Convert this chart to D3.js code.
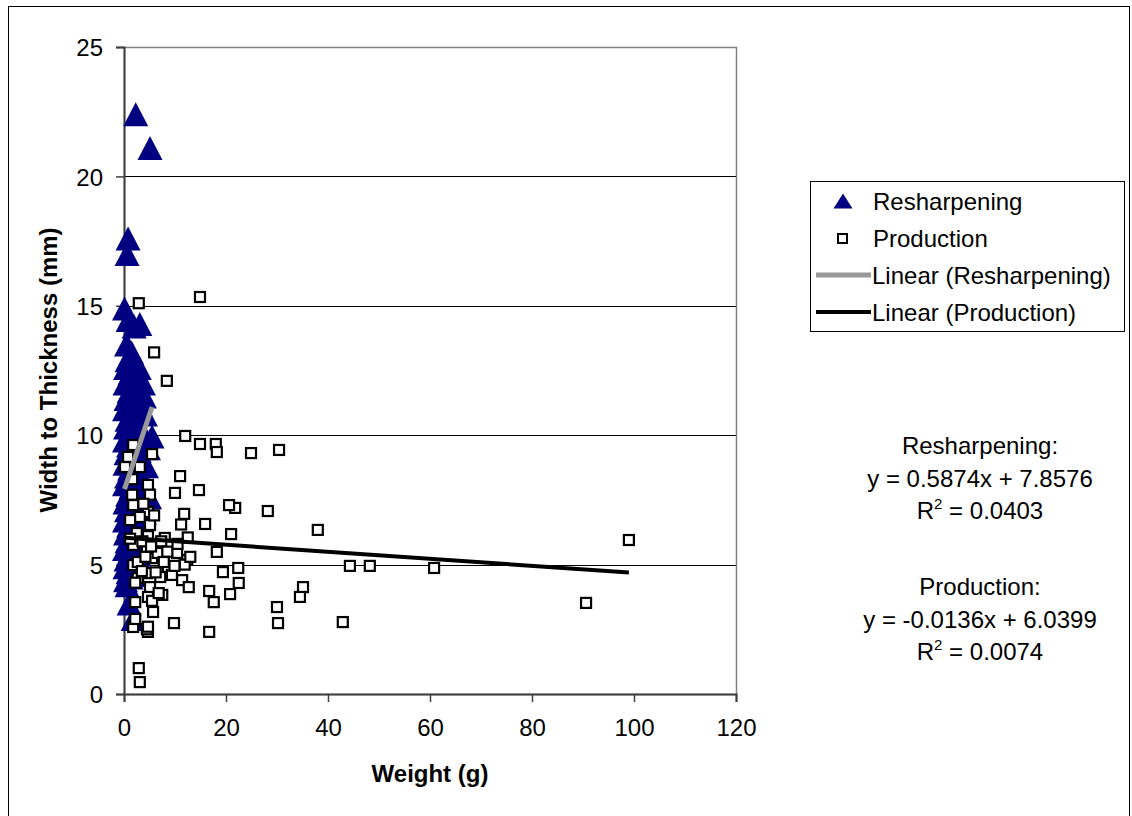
<!DOCTYPE html>
<html>
<head>
<meta charset="utf-8">
<script src="https://cdn.jsdelivr.net/npm/d3@7/dist/d3.min.js"></script>
<style>
  html, body { margin: 0; padding: 0; background: #fff; }
  svg { display: block; font-family: "Liberation Sans", Arial, sans-serif; }
</style>
</head>
<body>
<svg id="chart" width="1132" height="816"></svg>
<script>
// Resharpening flakes: [weight (g), width-to-thickness]
const resharpening = [
  [2.3,22.4],[5.1,21.1],[0.8,17.6],[0.6,17.0],[0.1,14.9],[0.8,14.45],[2.0,14.2],[3.1,14.3],
  [0.5,13.5],[1.5,13.2],[0.6,12.9],[0.3,12.6],[0.9,12.6],[3.0,12.6],[1.2,12.4],[3.8,12.0],
  [2.6,12.1],[0.2,12.0],[1.0,11.7],[0.4,11.4],[2.0,11.5],[4.0,11.5],[3.2,11.2],[0.1,11.0],
  [1.5,10.9],[0.6,10.6],[2.6,10.5],[4.2,10.8],[0.3,10.3],[1.2,10.1],[1.8,10.2],[5.5,9.95],
  [3.5,10.0],[0.1,9.8],[0.9,9.6],[2.2,9.7],[4.8,9.5],[0.4,9.3],[1.7,9.2],[3.0,9.4],
  [3.6,9.0],[4.4,8.8],[0.2,8.9],[1.1,8.7],[2.4,8.6],[0.5,8.4],[3.8,8.3],[0.1,8.1],
  [1.4,8.0],[2.6,8.0],[0.7,7.7],[2.8,7.6],[5.0,7.6],[0.2,7.4],[1.9,7.3],[0.5,7.1],
  [4.0,7.0],[1.3,6.9],[3.0,6.8],[0.1,6.7],[0.9,6.5],[2.3,6.4],[0.3,6.2],[1.6,6.1],
  [0.6,5.9],[0.1,5.6],[1.1,5.5],[2.9,5.4],[0.4,5.2],[1.8,5.1],[3.5,5.0],[0.2,4.9],
  [0.8,4.7],[2.2,4.6],[1.4,4.5],[0.3,4.4],[0.6,4.2],[1.0,3.5],[1.8,2.9]
];

// Production flakes: [weight (g), width-to-thickness]
const production = [
  [99.0,5.95],[90.6,3.52],[60.8,4.87],[48.2,4.95],[44.3,4.95],[42.9,2.78],[38.0,6.34],[35.1,4.13],
  [34.5,3.75],[30.4,9.43],[30.0,3.36],[30.2,2.74],[28.2,7.07],[24.9,9.31],[22.4,4.87],[22.5,4.29],
  [21.8,7.19],[20.6,7.30],[21.0,6.18],[20.8,3.86],[19.4,4.71],[18.0,9.66],[18.2,9.35],[18.2,5.49],
  [17.6,3.55],[16.7,3.98],[16.7,2.40],[15.9,6.57],[14.9,15.34],[14.9,9.66],[14.7,7.88],[12.0,9.97],
  [11.0,8.42],[11.8,6.96],[11.2,6.55],[12.5,6.05],[12.4,5.18],[11.9,5.0],[11.4,4.4],[12.7,4.13],
  [9.8,2.74],[10.0,7.77],[8.4,12.1],[5.9,13.2],[2.9,15.1],[5.5,9.27],[8.0,6.03],[9.0,5.76],
  [10.4,5.45],[8.6,4.91],[9.4,4.6],[7.1,4.52],[7.5,3.83],[5.7,3.17],[4.7,2.4],[4.5,2.5],
  [1.8,2.59],[2.9,1.0],[3.1,0.46],[4.7,8.08],[1.6,7.7],[5.1,7.7],[4.7,7.03],[3.1,6.84],
  [1.2,6.72],[5.1,6.53],[2.5,6.22],[1.8,5.76],[4.5,5.68],[5.5,5.25],[1.8,4.98],[4.5,4.67],
  [2.7,4.48],[5.1,4.13],[4.7,3.75],[2.2,3.55],[1.8,9.62],[0.8,9.16],[0.2,8.77],[3.1,8.77],
  [6.6,5.45],[2.7,5.1],[4.7,6.1],[1.8,7.3],[6.2,4.7],[3.5,4.75],[5.5,3.6],[2.2,2.9],
  [4.7,2.6],[1.2,6.0],[3.6,5.9],[6.8,3.9],[7.8,5.1],[9.9,4.95],[13.0,5.3],[1.6,8.3],
  [3.8,7.35],[5.9,6.9],[2.2,4.3],[4.2,5.3],[5.3,5.7],[7.3,5.9],[8.5,5.5],[10.5,5.8]
];

// Linear trend coefficients: [slope, intercept, R²]
const trendResharpening = [0.5874, 7.8576, 0.0403];
const trendProduction = [-0.0136, 6.0399, 0.0074];

const xTicks = [0, 20, 40, 60, 80, 100, 120];
const yTicks = [0, 5, 10, 15, 20, 25];
const legendLabels = ["Resharpening", "Production", "Linear (Resharpening)", "Linear (Production)"];

const FONT = 24;
const svg = d3.select("#chart");
const plot = { left: 124, right: 736, top: 47, bottom: 694 };

const x = d3.scaleLinear().domain([0, 120]).range([plot.left, plot.right]);
const y = d3.scaleLinear().domain([0, 25]).range([plot.bottom, plot.top]);

// Outer chart frame
svg.append("rect")
  .attr("x", 8.5).attr("y", 6.5).attr("width", 1121).attr("height", 820)
  .attr("fill", "#fff").attr("stroke", "#000").attr("stroke-width", 1);

// Plot area border (grey)
svg.append("rect")
  .attr("x", plot.left + 0.5).attr("y", plot.top + 0.5)
  .attr("width", plot.right - plot.left).attr("height", plot.bottom - plot.top)
  .attr("fill", "#fff").attr("stroke", "#808080").attr("stroke-width", 1.5);

// Horizontal gridlines
svg.append("g").selectAll("line")
  .data(yTicks.filter(t => t > 0 && t < 25))
  .join("line")
  .attr("x1", plot.left).attr("x2", plot.right)
  .attr("y1", d => Math.round(y(d)) + 0.5).attr("y2", d => Math.round(y(d)) + 0.5)
  .attr("stroke", "#000").attr("stroke-width", 1);

// Axes
const yAxis = svg.append("g")
  .attr("transform", `translate(${plot.left},0)`)
  .call(d3.axisLeft(y).tickValues(yTicks).tickSize(8).tickPadding(13).tickFormat(d3.format("d")));
const xAxis = svg.append("g")
  .attr("transform", `translate(0,${plot.bottom})`)
  .call(d3.axisBottom(x).tickValues(xTicks).tickSize(8).tickPadding(17).tickFormat(d3.format("d")));

[yAxis, xAxis].forEach(a => {
  a.select(".domain").attr("stroke", "#404040").attr("stroke-width", 2);
  a.selectAll(".tick line").attr("stroke", "#404040").attr("stroke-width", 1.5);
  a.selectAll(".tick text")
    .attr("font-size", FONT).attr("fill", "#000")
    .attr("font-family", "'Liberation Sans', Arial, sans-serif");
});
yAxis.selectAll(".tick text").attr("dy", "0.36em");

// Axis titles
svg.append("text")
  .attr("transform", `translate(57,${370}) rotate(-90)`)
  .attr("text-anchor", "middle")
  .attr("font-size", FONT).attr("font-weight", "bold")
  .text("Width to Thickness (mm)");
svg.append("text")
  .attr("x", (plot.left + plot.right) / 2).attr("y", 782)
  .attr("text-anchor", "middle")
  .attr("font-size", FONT).attr("font-weight", "bold")
  .text("Weight (g)");

// Marker shapes: triangle drawn around its bounding-box centre
const triangle = (w, h) => `M0,${-h / 2}L${w / 2},${h / 2}L${-w / 2},${h / 2}Z`;
const sq = 10;

const gPoints = svg.append("g");

// Resharpening triangles
gPoints.selectAll("path.resh")
  .data(resharpening)
  .join("path")
  .attr("class", "resh")
  .attr("d", triangle(25, 24))
  .attr("transform", d => `translate(${x(d[0])},${y(d[1])})`)
  .attr("fill", "#000080");

// Production squares
gPoints.selectAll("rect.prod")
  .data(production)
  .join("rect")
  .attr("class", "prod")
  .attr("x", d => x(d[0]) - sq / 2)
  .attr("y", d => y(d[1]) - sq / 2)
  .attr("width", sq).attr("height", sq)
  .attr("fill", "#fff").attr("stroke", "#000").attr("stroke-width", 2.2);

// Trend lines over each series' weight range
function trendSegment(data, coef) {
  const [lo, hi] = d3.extent(data, d => d[0]);
  return [[lo, coef[0] * lo + coef[1]], [hi, coef[0] * hi + coef[1]]];
}
const line = d3.line().x(d => x(d[0])).y(d => y(d[1]));

svg.append("path")
  .attr("d", line(trendSegment(resharpening, trendResharpening)))
  .attr("stroke", "#999").attr("stroke-width", 5).attr("fill", "none");
svg.append("path")
  .attr("d", line(trendSegment(production, trendProduction)))
  .attr("stroke", "#000").attr("stroke-width", 4).attr("fill", "none");

// Legend
const lg = svg.append("g");
lg.append("rect")
  .attr("x", 810.5).attr("y", 181.5).attr("width", 314).attr("height", 150)
  .attr("fill", "#fff").attr("stroke", "#000").attr("stroke-width", 1);

const rowY = [201, 238, 275, 312];
lg.append("path").attr("d", triangle(19, 15))
  .attr("transform", `translate(843,${rowY[0]})`).attr("fill", "#000080");
lg.append("rect").attr("x", 838).attr("y", rowY[1] - 4).attr("width", 9).attr("height", 9)
  .attr("fill", "#fff").attr("stroke", "#000").attr("stroke-width", 2);
lg.append("line").attr("x1", 816).attr("x2", 871).attr("y1", rowY[2]).attr("y2", rowY[2])
  .attr("stroke", "#999").attr("stroke-width", 5);
lg.append("line").attr("x1", 816).attr("x2", 871).attr("y1", rowY[3]).attr("y2", rowY[3])
  .attr("stroke", "#000").attr("stroke-width", 4);

lg.selectAll("text.lab")
  .data(legendLabels)
  .join("text")
  .attr("class", "lab")
  .attr("x", (d, i) => i < 2 ? 873 : 872)
  .attr("y", (d, i) => rowY[i] + 8.5)
  .attr("font-size", FONT)
  .text(d => d);

// Trend equations
function eqBlock(title, coef, baseline) {
  const g = svg.append("g").attr("font-size", FONT).attr("text-anchor", "middle");
  const cx = 980;
  g.append("text").attr("x", cx).attr("y", baseline).text(title + ":");
  const sign = coef[1] >= 0 ? "+" : "-";
  g.append("text").attr("x", cx).attr("y", baseline + 32.5)
    .text(`y = ${coef[0]}x ${sign} ${Math.abs(coef[1])}`);
  const r = g.append("text").attr("x", cx).attr("y", baseline + 65);
  r.append("tspan").text("R");
  r.append("tspan").attr("font-size", 15).attr("dy", -10).text("2");
  r.append("tspan").attr("dy", 10).text(` = ${coef[2].toFixed(4)}`);
}
eqBlock("Resharpening", trendResharpening, 454);
eqBlock("Production", trendProduction, 595);
</script>
</body>
</html>
